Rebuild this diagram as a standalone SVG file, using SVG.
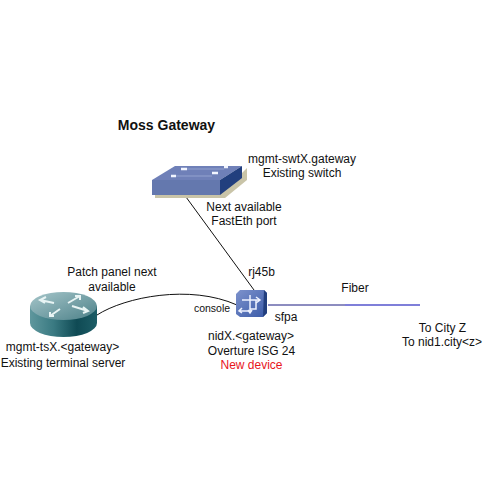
<svg xmlns="http://www.w3.org/2000/svg" width="483" height="488" viewBox="0 0 483 488">
<style>
text{font-family:"Liberation Sans",Arial,sans-serif;font-size:12px;fill:#111;text-anchor:middle}
</style>
<defs>
<linearGradient id="rt" x1="0" x2="1" y1="0" y2="0"><stop offset="0" stop-color="#5f979d"/><stop offset=".35" stop-color="#3a7a82"/><stop offset=".7" stop-color="#0f4a54"/><stop offset="1" stop-color="#1d5d66"/></linearGradient>
<linearGradient id="rtop" x1="0" x2="1" y1="0" y2="1"><stop offset="0" stop-color="#a6c6ca"/><stop offset="1" stop-color="#4d8189"/></linearGradient>
<linearGradient id="nd" x1="0" x2="1" y1="0" y2="1"><stop offset="0" stop-color="#7d92cc"/><stop offset="1" stop-color="#3a5aa8"/></linearGradient>
</defs>
<rect width="483" height="488" fill="#fff"/>
<g id="connectors" fill="none">
<path d="M186 197L254 290" stroke="#111" stroke-width="1"/>
<path d="M97 315C125 297 190 284 237 305" stroke="#111" stroke-width="1"/>
<path d="M268 305H345" stroke="#1a1a80" stroke-width="1"/>
<path d="M345 305H420" stroke="#5555cc" stroke-width="1.4"/>
</g>
<text x="166.500" y="130" style="font-size:14px;font-weight:bold">Moss Gateway</text>
<g id="switch">
<path d="M155 190H225L247 168V180L225 198H155Z" fill="#c9c4a8"/>
<path d="M152 180L175 166H242L220 180Z" fill="#6f80b8"/>
<path d="M152 180H220V195H152Z" fill="#6478ae"/>
<path d="M220 180L242 166V178L220 195Z" fill="#223f7e"/>
<g stroke="#f2f5ff" stroke-width="2.500"><path d="M181 169H187M224 167H228M171 176H176M212 173H218"/></g>
<path d="M187 169H224M176 176H212" stroke="#94a2cf" stroke-width="1"/>
<text x="302" y="163">mgmt-swtX.gateway</text>
<text x="302" y="177">Existing switch</text>
</g>
<text x="244" y="211">Next available</text>
<text x="244" y="225">FastEth port</text>
<text x="261.500" y="276">rj45b</text>
<text x="112" y="276">Patch panel next</text>
<text x="112" y="291">available</text>
<g id="router">
<path d="M30 306V323A33.500 14 0 0 0 97 323V306Z" fill="url(#rt)"/>
<ellipse cx="63.500" cy="306" rx="33.500" ry="14" fill="url(#rtop)"/>
<g fill="none" stroke="#e8f4f4" stroke-width="2">
<path d="M40 300L54 303M46 297L40 300L45 303"/>
<path d="M88 311L72 306M83 313L88 311L83 307"/>
<path d="M68 303L80 296M75 296H80V300"/>
<path d="M60 309L50 316M54 316H50V312"/>
</g>
<text x="62.500" y="351">mgmt-tsX.&lt;gateway&gt;</text>
<text x="63" y="367">Existing terminal server</text>
</g>
<g id="nid">
<path d="M240 290H264L267 293V313L263 317H240L236 314V294Z" fill="url(#nd)"/>
<path d="M264 290L267 293V313L263 317Z" fill="#223f7e"/>
<g fill="none" stroke="#eef2ff" stroke-width="1.500">
<path d="M242 300H259M256 297L260 300L256 303"/>
<path d="M250 295V313M248 310L250 313L252 310"/>
<path d="M240 311H250M242 308L239 311L242 313"/>
<path d="M256 300V309H250"/>
</g>
<text x="212" y="312" style="font-size:10.500px">console</text>
<text x="286" y="321">sfpa</text>
<text x="251" y="340">nidX.&lt;gateway&gt;</text>
<text x="251.500" y="355">Overture ISG 24</text>
<text x="251.500" y="369" style="fill:#e8141c">New device</text>
</g>
<text x="355" y="292">Fiber</text>
<text x="442.500" y="332">To City Z</text>
<text x="442" y="346">To nid1.city&lt;z&gt;</text>
</svg>
